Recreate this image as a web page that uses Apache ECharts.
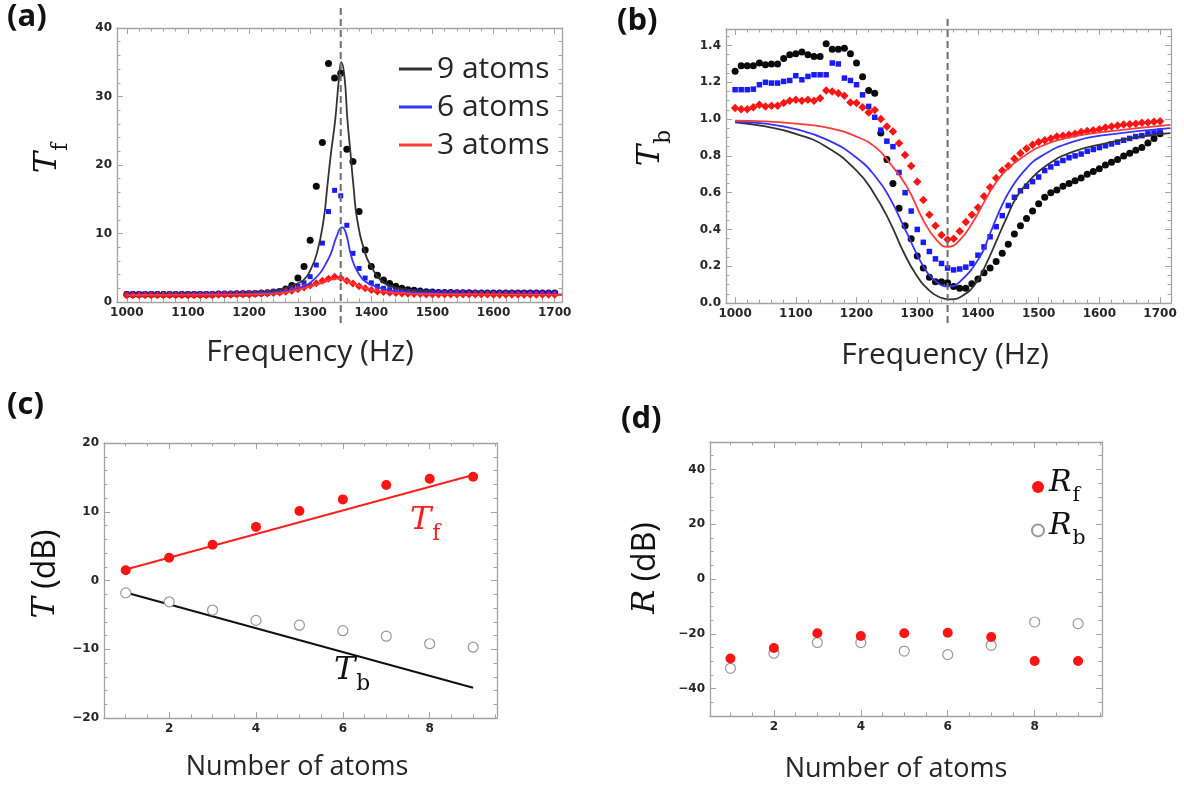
<!DOCTYPE html>
<html>
<head>
<meta charset="utf-8">
<script src="https://cdn.jsdelivr.net/npm/echarts@6/dist/echarts.min.js"></script>
<style>
  html, body { margin: 0; padding: 0; background: #fff; }
  #chart { width: 1184px; height: 787px; }
</style>
</head>
<body>
<div id="chart"></div>
<script>
// ---- data ----
const freq = [
  1000, 1010, 1020, 1030, 1040, 1050, 1060, 1070, 1080, 1090,
  1100, 1110, 1120, 1130, 1140, 1150, 1160, 1170, 1180, 1190,
  1200, 1210, 1220, 1230, 1240, 1250, 1260, 1270, 1280, 1290,
  1300, 1310, 1320, 1330, 1340, 1350, 1360, 1370, 1380, 1390,
  1400, 1410, 1420, 1430, 1440, 1450, 1460, 1470, 1480, 1490,
  1500, 1510, 1520, 1530, 1540, 1550, 1560, 1570, 1580, 1590,
  1600, 1610, 1620, 1630, 1640, 1650, 1660, 1670, 1680, 1690, 1700
]
const resonance = 1350

// (a) forward transmission, measured
const tf9 = [
  1.1, 1.1, 1.1, 1.1, 1.1, 1.1, 1.1, 1.1, 1.1, 1.1,
  1.1, 1.1, 1.1, 1.1, 1.1, 1.15, 1.15, 1.15, 1.2, 1.2,
  1.2, 1.25, 1.3, 1.35, 1.45, 1.55, 1.9, 2.4, 3.5, 5.2,
  9.0, 16.9, 23.3, 34.8, 32.7, 33.4, 22.3, 20.5, 13.2, 7.6,
  5.2, 3.9, 3.2, 2.7, 2.3, 2.0, 1.8, 1.7, 1.6, 1.5,
  1.45, 1.4, 1.4, 1.4, 1.35, 1.35, 1.35, 1.3, 1.3, 1.3,
  1.3, 1.3, 1.3, 1.3, 1.3, 1.3, 1.3, 1.3, 1.3, 1.3, 1.3
]
const tf6 = [
  1.2, 1.2, 1.2, 1.2, 1.2, 1.2, 1.2, 1.2, 1.2, 1.2,
  1.2, 1.2, 1.2, 1.2, 1.2, 1.2, 1.25, 1.25, 1.25, 1.3,
  1.3, 1.3, 1.35, 1.4, 1.5, 1.6, 1.8, 2.0, 2.3, 2.8,
  3.7, 5.4, 8.6, 13.2, 16.3, 15.5, 11.2, 7.1, 4.9, 3.5,
  2.8, 2.3, 2.0, 1.8, 1.7, 1.6, 1.55, 1.5, 1.5, 1.45,
  1.45, 1.4, 1.4, 1.4, 1.4, 1.4, 1.35, 1.35, 1.35, 1.35,
  1.35, 1.35, 1.35, 1.35, 1.35, 1.35, 1.35, 1.35, 1.35, 1.35, 1.35
]
const tf3 = [
  1.0, 1.0, 1.0, 1.0, 1.0, 1.0, 1.0, 1.0, 1.0, 1.0,
  1.0, 1.0, 1.0, 1.0, 1.0, 1.05, 1.05, 1.05, 1.1, 1.1,
  1.1, 1.15, 1.2, 1.25, 1.3, 1.4, 1.5, 1.65, 1.85, 2.1,
  2.4, 2.75, 3.1, 3.4, 3.7, 3.5, 3.1, 2.7, 2.3, 2.0,
  1.75, 1.55, 1.45, 1.35, 1.3, 1.25, 1.2, 1.15, 1.15, 1.1,
  1.1, 1.1, 1.1, 1.1, 1.1, 1.1, 1.1, 1.1, 1.1, 1.1,
  1.05, 1.05, 1.05, 1.05, 1.05, 1.05, 1.05, 1.05, 1.05, 1.05, 1.05
]
// (a) theory curves, [Hz, Tf]
const tf9Fit = [[1000, 1.05], [1100, 1.1], [1150, 1.15], [1200, 1.3], [1230, 1.5], [1250, 1.8], [1270, 2.4],
  [1289, 3.2], [1300, 4.6], [1311, 7.1], [1322, 12.0], [1328, 16.8], [1334, 21.7], [1341, 26.6], [1347, 32.5],
  [1351, 35.0], [1356, 33.0], [1361, 26.6], [1366, 21.7], [1371, 16.8], [1377, 12.0], [1390, 7.1], [1400, 5.2],
  [1415, 3.2], [1430, 2.4], [1450, 1.9], [1500, 1.45], [1550, 1.25], [1600, 1.15], [1712, 1.05]]
const tf6Fit = [[1000, 1.05], [1150, 1.1], [1200, 1.2], [1250, 1.5], [1270, 1.75], [1289, 2.2], [1300, 2.8],
  [1316, 4.2], [1325, 5.5], [1334, 7.1], [1343, 9.5], [1352, 10.9], [1358, 10.2], [1366, 7.1], [1372, 5.4],
  [1379, 4.2], [1390, 3.0], [1409, 2.2], [1430, 1.7], [1460, 1.45], [1500, 1.3], [1600, 1.15], [1712, 1.1]]
const tf3Fit = [[1000, 1.0], [1200, 1.1], [1250, 1.3], [1290, 2.0], [1320, 2.8], [1345, 3.4], [1370, 2.7],
  [1400, 1.8], [1450, 1.3], [1500, 1.15], [1712, 1.05]]

// (b) backward transmission, measured
const tb9 = [
  1.26, 1.29, 1.29, 1.29, 1.305, 1.295, 1.30, 1.30, 1.33, 1.35,
  1.355, 1.365, 1.35, 1.34, 1.34, 1.41, 1.38, 1.38, 1.385, 1.355,
  1.305, 1.23, 1.155, 1.14, 0.925, 0.78, 0.65, 0.515, 0.42, 0.35,
  0.255, 0.19, 0.14, 0.115, 0.115, 0.11, 0.09, 0.08, 0.08, 0.105,
  0.13, 0.165, 0.19, 0.225, 0.27, 0.32, 0.375, 0.42, 0.46, 0.50,
  0.54, 0.575, 0.60, 0.615, 0.635, 0.65, 0.665, 0.68, 0.70, 0.715,
  0.73, 0.75, 0.765, 0.78, 0.80, 0.815, 0.83, 0.845, 0.87, 0.895, 0.92
]
const tb6 = [
  1.16, 1.16, 1.16, 1.163, 1.187, 1.20, 1.196, 1.196, 1.205, 1.21,
  1.236, 1.214, 1.232, 1.241, 1.241, 1.241, 1.305, 1.30, 1.223, 1.21,
  1.187, 1.132, 1.069, 1.01, 0.94, 0.88, 0.85, 0.71, 0.60, 0.50,
  0.40, 0.33, 0.28, 0.24, 0.215, 0.19, 0.18, 0.185, 0.195, 0.215,
  0.26, 0.305, 0.36, 0.415, 0.475, 0.53, 0.575, 0.61, 0.635, 0.66,
  0.685, 0.72, 0.74, 0.76, 0.775, 0.79, 0.80, 0.81, 0.825, 0.835,
  0.845, 0.855, 0.865, 0.875, 0.885, 0.895, 0.905, 0.91, 0.92, 0.925, 0.935
]
const tb3 = [
  1.06, 1.054, 1.054, 1.065, 1.078, 1.069, 1.072, 1.072, 1.087, 1.10,
  1.105, 1.10, 1.105, 1.10, 1.114, 1.156, 1.15, 1.141, 1.127, 1.09,
  1.087, 1.065, 1.036, 1.05, 1.00, 0.96, 0.932, 0.869, 0.805, 0.745,
  0.66, 0.56, 0.48, 0.42, 0.37, 0.345, 0.35, 0.39, 0.44, 0.48,
  0.52, 0.58, 0.63, 0.68, 0.72, 0.745, 0.785, 0.815, 0.84, 0.86,
  0.875, 0.885, 0.895, 0.905, 0.91, 0.915, 0.92, 0.93, 0.935, 0.94,
  0.945, 0.955, 0.96, 0.965, 0.97, 0.972, 0.975, 0.98, 0.982, 0.985, 0.988
]
// (b) theory curves, [Hz, Tb]
const tb9Fit = [[1000, 0.983], [1050, 0.96], [1100, 0.92], [1150, 0.85], [1200, 0.72], [1228, 0.6], [1255, 0.44],
  [1277, 0.28], [1299, 0.15], [1321, 0.065], [1338, 0.03], [1354, 0.02], [1376, 0.042], [1398, 0.115],
  [1414, 0.215], [1431, 0.342], [1448, 0.469], [1464, 0.578], [1486, 0.669], [1514, 0.751], [1557, 0.823],
  [1612, 0.869], [1667, 0.905], [1717, 0.924]]
const tb6Fit = [[1000, 0.987], [1050, 0.975], [1100, 0.945], [1150, 0.89], [1200, 0.79], [1233, 0.68], [1255, 0.57],
  [1283, 0.38], [1310, 0.2], [1332, 0.115], [1352, 0.09], [1370, 0.115], [1403, 0.25], [1420, 0.378],
  [1436, 0.505], [1453, 0.614], [1475, 0.714], [1503, 0.796], [1557, 0.878], [1612, 0.914], [1717, 0.951]]
const tb3Fit = [[1000, 0.992], [1050, 0.988], [1100, 0.975], [1150, 0.955], [1200, 0.905], [1233, 0.842], [1255, 0.76],
  [1283, 0.632], [1310, 0.45], [1332, 0.342], [1350, 0.305], [1370, 0.342], [1392, 0.442], [1409, 0.542],
  [1425, 0.632], [1447, 0.724], [1475, 0.796], [1503, 0.851], [1557, 0.905], [1612, 0.932], [1717, 0.969]]

// (c) transmission vs number of atoms, dB
const atoms = [1, 2, 3, 4, 5, 6, 7, 8, 9]
const tfDb = [1.5, 3.3, 5.2, 7.8, 10.1, 11.8, 13.9, 14.8, 15.1]
const tbDb = [-1.8, -3.1, -4.3, -5.8, -6.5, -7.3, -8.1, -9.2, -9.7]
const tfDbFit = [[1, 1.6], [9, 15.35]]
const tbDbFit = [[1, -1.75], [9, -15.6]]

// (d) reflection vs number of atoms, dB
const rfDb = [-29, -25.2, -19.8, -20.8, -19.8, -19.6, -21.2, -29.9, -29.9]
const rbDb = [-32.6, -27.1, -23.2, -23.2, -26.3, -27.6, -24.2, -15.7, -16.3]

// tick labels
const freqTicks = [1000, 1100, 1200, 1300, 1400, 1500, 1600, 1700]
const tfTicks = [0, 10, 20, 30, 40]
const tbTicks = [0, 0.2, 0.4, 0.6, 0.8, 1.0, 1.2, 1.4]
const atomTicks = [2, 4, 6, 8]
const tDbTicks = [-20, -10, 0, 10, 20]
const rDbTicks = [-40, -20, 0, 20, 40]

// ---- styling ----
const FONT = 'Open Sans'
const SERIF = 'DejaVu Serif'
const FRAME = '#a3a3a3'
const TEXT = '#262626'
const BLACK = '#0a0a0a'
const BLUE = '#1a1aff'
const RED = '#ff1414'

function range(a, b, step) {
  const out = []
  for (let v = a; v <= b + 1e-9; v += step) out.push(+v.toFixed(4))
  return out
}

function plain(v) {
  return String(v).replace('-', '\u2212')
}

const grids = []
const xAxes = []
const yAxes = []

function frameAxis(gridIndex, position, s, labels) {
  return {
    type: 'value',
    gridIndex,
    position,
    min: s.min,
    max: s.max,
    axisLine: { show: true, onZero: false, lineStyle: { color: FRAME, width: 1.3 } },
    axisTick: { show: true, inside: true, length: 6, customValues: s.major, lineStyle: { color: FRAME, width: 1 } },
    axisLabel: {
      show: labels,
      customValues: s.major,
      formatter: s.fmt || plain,
      fontFamily: 'DejaVu Sans',
      fontWeight: 'bold',
      fontSize: 12,
      color: TEXT,
      margin: 5
    },
    splitLine: { show: false }
  }
}

function minorAxis(gridIndex, position, s) {
  return {
    type: 'value',
    gridIndex,
    position,
    min: s.min,
    max: s.max,
    axisLine: { show: false, onZero: false },
    axisTick: { show: true, inside: true, length: 3.5, customValues: s.minor, lineStyle: { color: FRAME, width: 1 } },
    axisLabel: { show: false },
    splitLine: { show: false }
  }
}

function addPanel(box, xs, ys) {
  const g = grids.length
  grids.push({ ...box, show: false, containLabel: false, outerBoundsMode: 'none' })
  grids.push({ ...box, show: false, containLabel: false, outerBoundsMode: 'none' })
  const xi = xAxes.length
  const yi = yAxes.length
  xAxes.push(frameAxis(g, 'bottom', xs, true), frameAxis(g, 'top', xs, false))
  xAxes.push(minorAxis(g + 1, 'bottom', xs), minorAxis(g + 1, 'top', xs))
  yAxes.push(frameAxis(g, 'left', ys, true), frameAxis(g, 'right', ys, false))
  yAxes.push(minorAxis(g + 1, 'left', ys), minorAxis(g + 1, 'right', ys))
  return { xAxisIndex: xi, yAxisIndex: yi }
}

// a dashed marker line that runs past the frame, on its own hidden grid
function addDashGrid(box, xs) {
  const g = grids.length
  grids.push({ ...box, show: false, containLabel: false, outerBoundsMode: 'none' })
  xAxes.push({ type: 'value', gridIndex: g, min: xs.min, max: xs.max, show: false })
  yAxes.push({ type: 'value', gridIndex: g, min: 0, max: 1, show: false })
  return { xAxisIndex: xAxes.length - 1, yAxisIndex: yAxes.length - 1 }
}

const freqAxisA = { min: 984, max: 1712, major: freqTicks, minor: range(1000, 1700, 20) }
const freqAxisB = { min: 985, max: 1718, major: freqTicks, minor: range(1000, 1700, 20) }
const atomAxisC = { min: 0.5, max: 9.55, major: atomTicks, minor: range(1, 9.5, 0.5) }
const atomAxisD = { min: 0.53, max: 9.55, major: atomTicks, minor: range(1, 9.5, 0.5) }

const pa = addPanel({ left: 117, top: 28, width: 445, height: 274 }, freqAxisA,
  { min: 0, max: 40, major: tfTicks, minor: range(0, 40, 2) })
const pb = addPanel({ left: 726, top: 29, width: 445, height: 274 }, freqAxisB,
  { min: 0, max: 1.49, major: tbTicks, minor: range(0, 1.45, 0.05), fmt: v => v.toFixed(1) })
const pc = addPanel({ left: 104, top: 443, width: 393, height: 275 }, atomAxisC,
  { min: -20, max: 20, major: tDbTicks, minor: range(-20, 20, 2) })
const pd = addPanel({ left: 710, top: 442, width: 392, height: 274 }, atomAxisD,
  { min: -50, max: 50, major: rDbTicks, minor: range(-50, 50, 5) })
const dashA = addDashGrid({ left: 117, top: 5, width: 445, height: 318 }, freqAxisA)
const dashB = addDashGrid({ left: 726, top: 17, width: 445, height: 306 }, freqAxisB)

function zip(xs, ys) {
  return xs.map((x, i) => [x, ys[i]])
}

function dots(axes, data, symbol, size, color, name) {
  return { type: 'scatter', name, ...axes, data, symbol, symbolSize: size, itemStyle: { color, opacity: 1 }, z: 2 }
}

function openDots(axes, data, name) {
  return {
    type: 'scatter', name, ...axes, data, symbol: 'circle', symbolSize: 10,
    itemStyle: { color: '#ffffff', borderColor: '#999999', borderWidth: 1.2, opacity: 1 }, z: 2
  }
}

function curve(axes, data, color, name) {
  return {
    type: 'line', name, ...axes, data, smooth: 0.5, showSymbol: false,
    color, lineStyle: { color, width: 1.8 }, z: 3
  }
}

function dashLine(axes) {
  return {
    type: 'line', ...axes, data: [[resonance, 0], [resonance, 1]], showSymbol: false, silent: true,
    lineStyle: { color: '#6e6e6e', width: 2, type: [7, 4] }, z: 4
  }
}

const series = [
  dots(pa, zip(freq, tf9), 'circle', 7, BLACK),
  dots(pa, zip(freq, tf6), 'rect', 5, BLUE),
  dots(pa, zip(freq, tf3), 'diamond', 8, RED),
  curve(pa, tf9Fit, '#333333', '9 atoms'),
  curve(pa, tf6Fit, '#3535ff', '6 atoms'),
  curve(pa, tf3Fit, '#ff3a3a', '3 atoms'),
  dashLine(dashA),

  dots(pb, zip(freq, tb9), 'circle', 7, BLACK),
  dots(pb, zip(freq, tb6), 'rect', 5.5, BLUE),
  dots(pb, zip(freq, tb3), 'diamond', 8.5, RED),
  curve(pb, tb9Fit, '#333333'),
  curve(pb, tb6Fit, '#3535ff'),
  curve(pb, tb3Fit, '#ff3a3a'),
  dashLine(dashB),

  { type: 'line', ...pc, data: tfDbFit, showSymbol: false, lineStyle: { color: '#ff2020', width: 2 }, z: 1 },
  { type: 'line', ...pc, data: tbDbFit, showSymbol: false, lineStyle: { color: '#111111', width: 2 }, z: 1 },
  dots(pc, zip(atoms, tfDb), 'circle', 10, RED),
  openDots(pc, zip(atoms, tbDb)),

  openDots(pd, zip(atoms, rbDb), 'Rb'),
  dots(pd, zip(atoms, rfDb), 'circle', 10, RED, 'Rf')
]

const mathRich = (size, color) => ({
  t: { fontFamily: SERIF, fontStyle: 'italic', fontSize: size, lineHeight: size + 8, verticalAlign: 'top', fill: color, color },
  s: { fontFamily: SERIF, fontSize: size * 0.68, lineHeight: size * 0.68, padding: [size * 0.58, 0, 0, 1], verticalAlign: 'top', fill: color, color },
  n: { fontFamily: FONT, fontSize: size, lineHeight: size + 8, verticalAlign: 'top', fill: color, color }
})

function label(text, x, y, size) {
  return {
    type: 'text', x, y, silent: true,
    style: { text, fontFamily: FONT, fontWeight: 'bold', fontSize: size, fill: '#111', align: 'left', verticalAlign: 'top' }
  }
}

function axisTitle(text, x, y, size) {
  return {
    type: 'text', x, y, silent: true,
    style: { text, fontFamily: FONT, fontSize: size, fill: TEXT, align: 'center', verticalAlign: 'middle' }
  }
}

function mathTitle(text, x, y, size, color, rotated) {
  return {
    type: 'text', x, y, silent: true, rotation: rotated ? Math.PI / 2 : 0,
    style: {
      text, rich: mathRich(size, color),
      align: rotated ? 'center' : 'left', verticalAlign: rotated ? 'middle' : 'top'
    }
  }
}

const option = {
  animation: false,
  backgroundColor: '#ffffff',
  grid: grids,
  xAxis: xAxes,
  yAxis: yAxes,
  series,
  legend: [
    {
      data: ['9 atoms', '6 atoms', '3 atoms'],
      orient: 'vertical', left: 394, top: 48,
      icon: 'rect', itemWidth: 33, itemHeight: 3, itemGap: 6,
      selectedMode: false,
      textStyle: { fontFamily: FONT, fontSize: 30, color: TEXT, lineHeight: 32 }
    },
    {
      data: ['Rf', 'Rb'],
      orient: 'vertical', left: 1026, top: 463,
      icon: 'circle', itemWidth: 12, itemHeight: 12, itemGap: 6,
      selectedMode: false,
      formatter: n => (n === 'Rf' ? '{t|R}{s|f}' : '{t|R}{s|b}'),
      textStyle: { rich: mathRich(30, '#111') }
    }
  ],
  graphic: [
    label('(a)', 7, 2, 31),
    label('(b)', 617, 6, 31),
    label('(c)', 7, 390, 31),
    label('(d)', 621, 404, 31),
    axisTitle('Frequency (Hz)', 310, 352, 30),
    axisTitle('Frequency (Hz)', 945, 355, 30),
    axisTitle('Number of atoms', 297, 767, 27),
    axisTitle('Number of atoms', 896, 769, 27),
    mathTitle('{t|T}{s|f}', 52, 158, 32, '#111', true),
    mathTitle('{t|T}{s|b}', 655, 148, 32, '#111', true),
    mathTitle('{t|T}{n| (dB)}', 50, 574, 32, '#111', true),
    mathTitle('{t|R}{n| (dB)}', 650, 568, 32, '#111', true),
    mathTitle('{t|T}{s|f}', 410, 505, 32, '#ff1c1c', false),
    mathTitle('{t|T}{s|b}', 334, 655, 32, '#111', false)
  ]
}

const chart = echarts.init(document.getElementById('chart'), null, { renderer: 'canvas' })
chart.setOption(option)
</script>
</body>
</html>
